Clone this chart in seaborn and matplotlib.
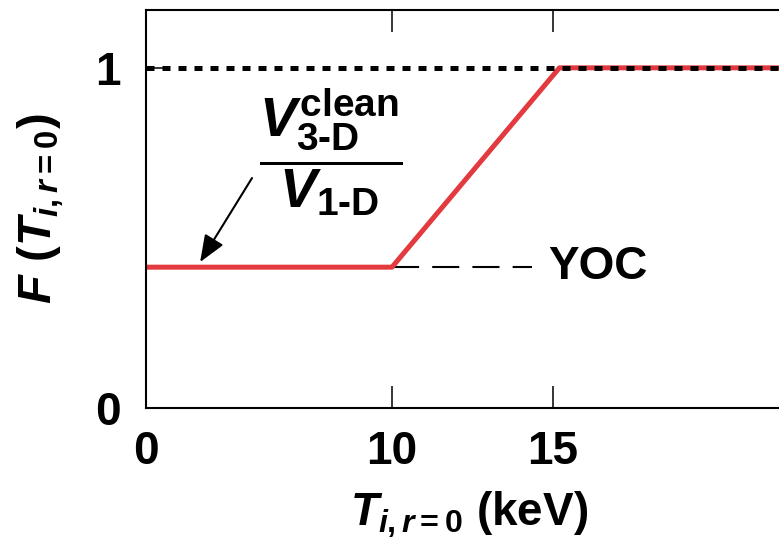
import numpy as np
import pandas as pd
import matplotlib
matplotlib.use('Agg')
import matplotlib.pyplot as plt
import seaborn as sns

# schematic F(T_i,r=0): flat at V3D/V1D below 10 keV, ramps to 1 by ~15 keV
temp_kev = [0, 10, 15.2, 22.2]
f_value = [0.414, 0.414, 1.0, 1.0]
yoc_t = [10, 14.35]
yoc_f = [0.414, 0.414]
unity = 1.0
xticks = [0, 10, 15]
xticklabels = ['0', '10', '15']
yticks = [0, 1]
yticklabels = ['0', '1']

df = pd.DataFrame({'T': temp_kev, 'F': f_value})

sns.set_style('ticks')
plt.rcParams['font.family'] = ['Liberation Sans', 'DejaVu Sans']
plt.rcParams['font.weight'] = 'bold'
plt.rcParams['axes.labelweight'] = 'bold'
for key in ['text.color', 'axes.labelcolor', 'xtick.color', 'ytick.color',
            'axes.edgecolor']:
    plt.rcParams[key] = 'black'
plt.rcParams['mathtext.fontset'] = 'custom'
plt.rcParams['mathtext.rm'] = 'Liberation Sans:bold'
plt.rcParams['mathtext.it'] = 'Liberation Sans:bold:italic'
plt.rcParams['mathtext.bf'] = 'Liberation Sans:bold'
plt.rcParams['mathtext.sf'] = 'Liberation Sans:bold'

# the drawn axis is stretched above 10 keV
k = 32.2 / 24.6
def fwd(x):
    x = np.asarray(x, float)
    return np.where(x <= 10, x, 10 + (x - 10) * k)
def inv(u):
    u = np.asarray(u, float)
    return np.where(u <= 10, u, 10 + (u - 10) / k)

fig = plt.figure(figsize=(7.79, 5.44), dpi=100)
ax = fig.add_axes([0.1874, 0.25, 0.82, 0.7316])
ax.set_xscale('function', functions=(fwd, inv))

sns.lineplot(data=df, x='T', y='F', color='#e23a3f', lw=3.6, ax=ax, zorder=2,
             solid_capstyle='butt')
ax.axhline(unity, color='black', lw=3.6, ls=(0, (1.6, 1.6)), zorder=3,
           dash_capstyle='butt')
sns.lineplot(x=yoc_t, y=yoc_f, color='black', lw=1.5, ax=ax, zorder=1,
             linestyle=(0, (13, 6.3)))

ax.text(14.84, 0.415, 'YOC', fontsize=33, ha='left', va='center')
ax.text(7.5, 0.752, r'$\dfrac{V^{\mathrm{clean}}_{\text{3-D}}}{V_{\text{1-D}}}$',
        fontsize=40, ha='center', va='center')
ax.annotate('', xy=(2.2, 0.429), xytext=(4.31, 0.676),
            arrowprops=dict(arrowstyle='-|>,head_length=0.55,head_width=0.22',
                            mutation_scale=30, color='black', lw=1.5,
                            shrinkA=0, shrinkB=0))

ax.set_xlim(0, 22.2)
ax.set_ylim(0, 1.17)
ax.set_xticks(xticks)
ax.set_xticklabels(xticklabels)
ax.set_yticks(yticks)
ax.set_yticklabels(yticklabels)
ax.minorticks_off()
ax.tick_params(axis='x', direction='in', length=16, width=1.1, top=True,
               labelsize=33, pad=16)
ax.tick_params(axis='y', direction='in', length=13, width=1.1,
               labelsize=33, pad=18)
for s in ax.spines.values():
    s.set_linewidth(1.5)

ax.set_xlabel(r'$T_{i,r=0}$ (keV)', fontsize=33)
ax.set_ylabel(r'$F\ (T_{i,r=0})$', fontsize=34)
ax.xaxis.set_label_coords(0.5055, -0.205)
ax.yaxis.set_label_coords(-0.125, 0.5)

fig.savefig('out.png', dpi=100)
